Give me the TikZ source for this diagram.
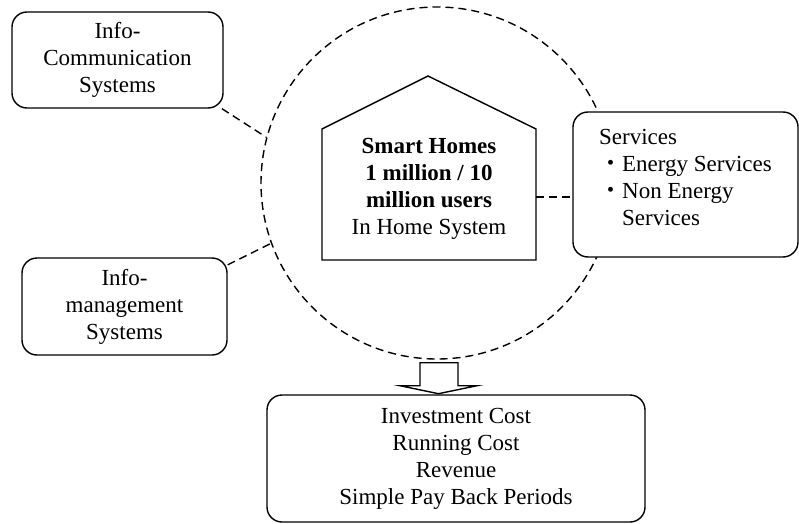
\documentclass[tikz,border=0pt]{standalone}
\usepackage{fontspec}
\setmainfont{Liberation Serif}
\newfontfamily\jpfont{Noto Sans CJK JP}
\begin{document}
\begin{tikzpicture}[x=1pt, y=1pt,
  every node/.style={font=\fontsize{23}{27}\selectfont},
  box/.style={draw, fill=white, line width=1.4pt, rounded corners=15pt, align=center, inner sep=0pt},
  link/.style={line width=1.4pt, dash pattern=on 8pt off 5pt}]
\useasboundingbox (0,0) rectangle (799,523);
% dashed ring round the home
\node[circle, draw, line width=1.4pt, dash pattern=on 8pt off 5pt, minimum size=352pt] (ring) at (437,340) {};
% home
\node[align=center, inner sep=0pt] (home) at (429,334) {\textbf{Smart Homes}\\ \textbf{1 million / 10}\\ \textbf{million users}\\ In Home System};
\draw[line width=1.4pt] ([shift={(-107,-71)}]home.center) -- ++(0,131) -- ++(106,53) -- ++(108,-53) -- ++(0,-131) -- cycle;
\coordinate (homeR) at ([shift={(107,-8)}]home.center);
% outer boxes
\node[box, minimum width=211pt, minimum height=96pt] (icom) at (117.5,463) {Info-\\ Communication\\ Systems};
\node[box, minimum width=205pt, minimum height=97pt] (imgmt) at (124.5,216.5) {Info-\\ management\\ Systems};
\node[box, align=left, minimum width=225pt, minimum height=145pt] (serv) at (685.5,338.5) {Services\\ {\jpfont ・}Energy Services\\ {\jpfont ・}Non Energy\\ \hphantom{\jpfont ・}Services\rule[-14pt]{0pt}{14pt}};
\node[box, minimum width=378pt, minimum height=127pt] (out) at (456,64.5) {Investment Cost\\ Running Cost\\ Revenue\\ Simple Pay Back Periods};
% links
\draw[link] (icom.-25) -- (ring.165);
\draw[link] (imgmt.22) -- (ring.200);
\draw[link] (homeR) -- (homeR -| serv.west);
% block arrow down to the results
\draw[line width=1.4pt, fill=white] ([shift={(-17,-3)}]ring.south) -- ++(0,-23) -- ++(-20,0) -- ++(38.5,-8) -- ++(38.5,8) -- ++(-19,0) -- ++(0,23) -- cycle;
\end{tikzpicture}
\end{document}
